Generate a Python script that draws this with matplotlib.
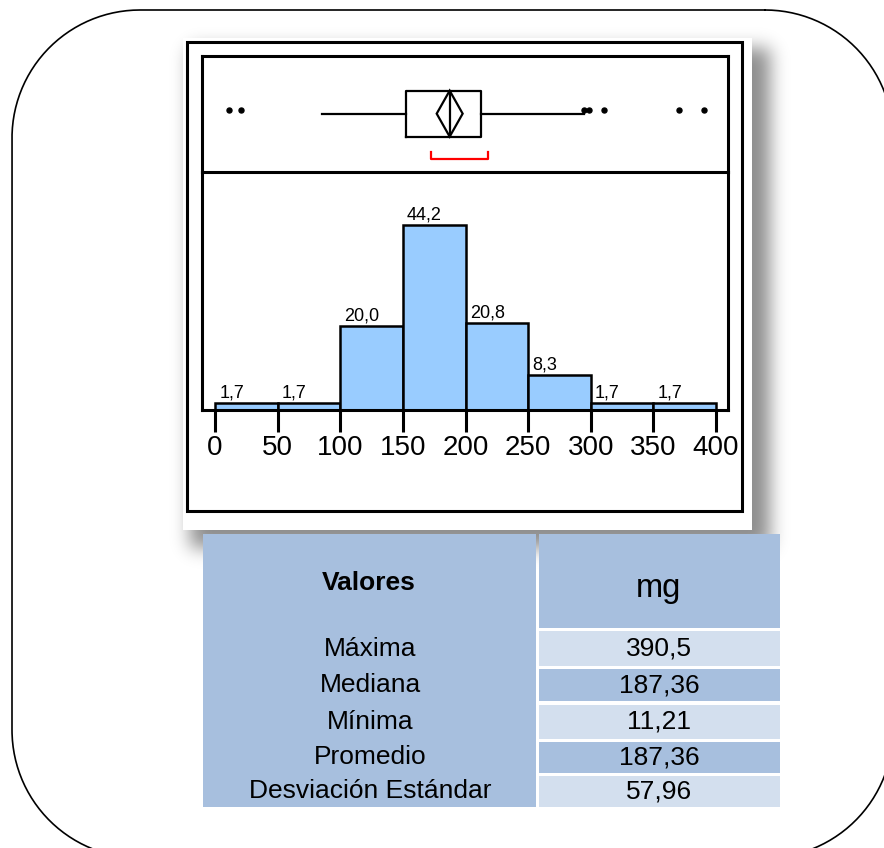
import numpy as np
import matplotlib.pyplot as plt
from matplotlib.patches import Rectangle, Polygon
from math import erf

plt.rcParams['font.family'] = ['Liberation Sans', 'DejaVu Sans']

# Histogram: percent of samples per 50 mg bin
bin_edges = [0, 50, 100, 150, 200, 250, 300, 350, 400]
percents = [1.7, 1.7, 20.0, 44.2, 20.8, 8.3, 1.7, 1.7]

# Outlier box plot summary (mg)
q1, q3 = 152.3, 212.2
whisker_lo, whisker_hi = 85.8, 294.4
outliers = [11.21, 21.0, 294.8, 298.5, 310.6, 370.8, 390.5]
shortest_half = (172.8, 218.2)
n_obs = 120

# Summary table
col_headers = ['Valores', 'mg']
stat_names = ['Máxima', 'Mediana', 'Mínima', 'Promedio', 'Desviación Estándar']
stat_values = [390.5, 187.36, 11.21, 187.36, 57.96]

W, H = 884, 848
fig = plt.figure(figsize=(W / 100, H / 100), dpi=100)

# ---- background layer in pixel coordinates ----
bg = fig.add_axes([0, 0, 1, 1])
bg.axis('off')

# rounded outline around everything
def rounded_rect(x0, y0, x1, y1, r, n=60):
    pts = []
    for cx, cy, a0 in [(x1 - r, y0 + r, -90), (x1 - r, y1 - r, 0),
                       (x0 + r, y1 - r, 90), (x0 + r, y0 + r, 180)]:
        t = np.radians(np.linspace(a0, a0 + 90, n))
        pts.append(np.column_stack([cx + r * np.cos(t), cy + r * np.sin(t)]))
    pts = np.vstack(pts + [pts[0][:1]])
    return pts[:, 0], pts[:, 1]

rx, ry = rounded_rect(12, 10, 893, 858, 128)
bg.plot(rx, ry, color='black', lw=1.2, zorder=0)

# soft drop shadow behind the chart panel
erfv = np.vectorize(erf)
def soft(v, a, b, s=9.0):
    k = s * np.sqrt(2)
    return 0.5 * (erfv((v - a) / k) - erfv((v - b) / k))
xs = np.arange(W) + 0.5
ys = np.arange(H) + 0.5
shadow = np.zeros((H, W, 4))
shadow[..., 3] = 0.45 * np.outer(soft(ys, 48, 548), soft(xs, 190, 770))
bg.imshow(shadow, extent=(0, W, H, 0), origin='upper', aspect='auto',
          interpolation='bilinear', zorder=1)

bg.add_patch(Rectangle((183, 38), 569, 492, fc='white', ec='none', zorder=2))
bg.add_patch(Rectangle((187, 42), 555, 469, fill=False, ec='black', lw=2.2, zorder=3))

# table
dark, light = '#A7BFDE', '#D3DFEE'
bg.add_patch(Rectangle((203, 534), 333, 273, fc=dark, ec='none', zorder=4))
bg.add_patch(Rectangle((539, 534), 241, 94, fc=dark, ec='none', zorder=4))
bg.text(369, 583, col_headers[0], ha='center', va='center', fontsize=19,
        fontweight='bold', zorder=5)
bg.text(659, 588, col_headers[1], ha='center', va='center', fontsize=23.5, zorder=5)
row_tops = [631, 669, 705, 742, 776]
row_bots = [666, 701, 739, 773, 807]
for i, (name, val) in enumerate(zip(stat_names, stat_values)):
    top, bot = row_tops[i], row_bots[i]
    bg.add_patch(Rectangle((539, top), 241, bot - top,
                           fc=light if i % 2 == 0 else dark, ec='none', zorder=4))
    yc = (top + bot) / 2
    bg.text(370, yc, name, ha='center', va='center', fontsize=19, zorder=5)
    bg.text(659, yc, str(val).replace('.', ','), ha='center', va='center',
            fontsize=19, zorder=5)

bg.set_xlim(0, W)
bg.set_ylim(H, 0)

# ---- chart axes ----
def fig_rect(x0, y0, x1, y1):
    return [x0 / W, 1 - y1 / H, (x1 - x0) / W, (y1 - y0) / H]

xlim = (-10.4, 409.6)

ax = fig.add_axes(fig_rect(202, 172, 728, 410), zorder=5)
ax.patch.set_alpha(0)
ax.bar(bin_edges[:-1], percents, width=50, align='edge', color='#99CCFF',
       edgecolor='black', linewidth=1.8, zorder=2)
for left, p in zip(bin_edges[:-1], percents):
    ax.annotate(f'{p:.1f}'.replace('.', ','), (left, p), xytext=(3, 1),
                textcoords='offset points', ha='left', va='bottom', fontsize=13)
ax.set_xlim(*xlim)
ax.set_ylim(0, 56.8)
ax.set_xticks(bin_edges)
ax.set_yticks([])
ax.tick_params(axis='x', length=16, width=2.2, labelsize=20, pad=2)
ax.spines['top'].set_visible(False)
for side in ['left', 'right', 'bottom']:
    ax.spines[side].set_linewidth(2.2)

axb = fig.add_axes(fig_rect(202, 56, 728, 172), zorder=6)
axb.patch.set_alpha(0)
mean, sd = stat_values[3], stat_values[4]
median = stat_values[1]
c, bw = 0.503, 0.396
stats = [dict(med=median, q1=q1, q3=q3, whislo=whisker_lo, whishi=whisker_hi, fliers=[])]
lp = dict(color='black', linewidth=1.6)
axb.bxp(stats, positions=[c], widths=bw, orientation='horizontal',
        showcaps=False, showfliers=False, boxprops=lp, whiskerprops=lp,
        medianprops=lp)
half = 1.96 * sd / np.sqrt(n_obs)
axb.add_patch(Polygon([(mean - half, c), (mean, c + bw / 2), (mean + half, c),
                       (mean, c - bw / 2)], closed=True, fill=False,
                      ec='black', lw=1.6))
axb.plot(outliers, [c + 0.03] * len(outliers), 'o', color='black', ms=3.6)
a, b = shortest_half
axb.plot([a, a, b, b], [0.172, 0.112, 0.112, 0.172], color='red', lw=1.6)
axb.set_xlim(*xlim)
axb.set_ylim(0, 1)
axb.set_xticks([])
axb.set_yticks([])
for s in axb.spines.values():
    s.set_linewidth(2.2)

fig.savefig('out.png', dpi=100)
